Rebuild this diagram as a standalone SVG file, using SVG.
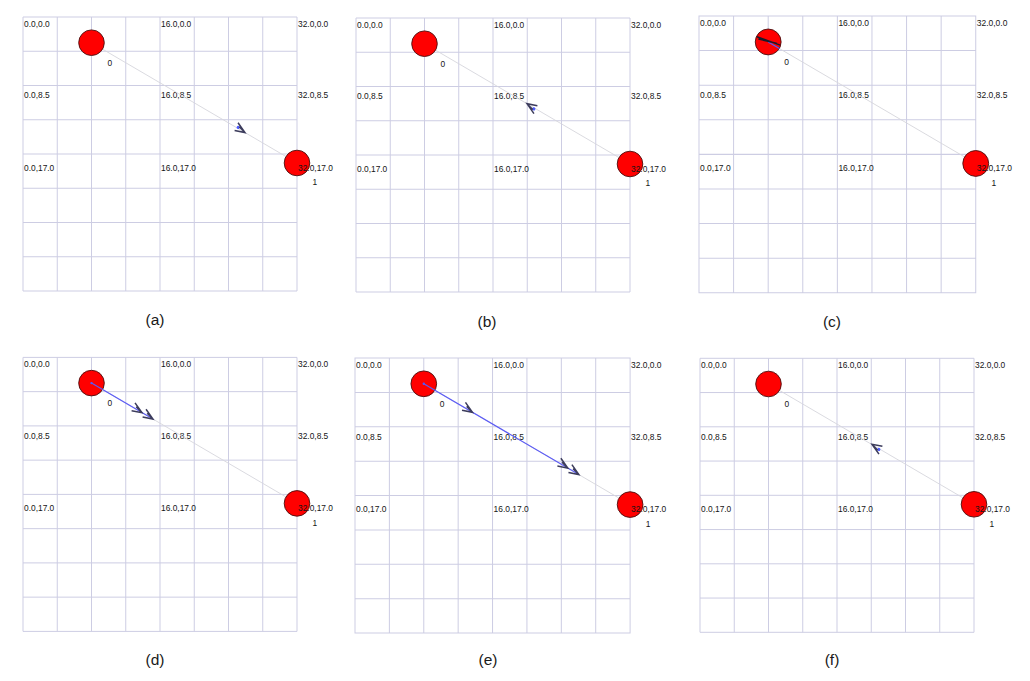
<svg xmlns="http://www.w3.org/2000/svg" xmlns:xlink="http://www.w3.org/1999/xlink" width="1030" height="681" viewBox="0 0 1030 681">
<style>
.bg{fill:#ffffff}
.grid{fill:none;stroke:#cdcde3;stroke-width:1}
.lbl{font-family:"Liberation Sans",Arial,sans-serif;font-size:8.4px;fill:#151515}
.nlbl{font-family:"Liberation Sans",Arial,sans-serif;font-size:8.4px;fill:#151515}
.cap{font-family:"Liberation Sans",Arial,sans-serif;font-size:15.5px;fill:#1a1a1a;text-anchor:middle}
.edge{stroke:#d6d6dc;stroke-width:0.9;fill:none}
.prog{stroke:#5c5cf5;stroke-width:1.2;fill:none}
.node{fill:#ff0000;stroke:#4a1010;stroke-width:0.9}
.chev{fill:none;stroke:#3c3c5c;stroke-width:1.5;stroke-linejoin:miter}
.dot{fill:#4f5cff}
</style>
<defs>
<path id="gridp" class="grid" d="M0,0H274V274H0Z M34.25,0V274 M68.5,0V274 M102.75,0V274 M137,0V274 M171.25,0V274 M205.5,0V274 M239.75,0V274 M0,34.25H274 M0,68.5H274 M0,102.75H274 M0,137H274 M0,171.25H274 M0,205.5H274 M0,239.75H274"/>
<g id="chev"><path class="chev" d="M-11,-5 L0,0 L-10,3.5 M-8,-2.2 L0,0"/></g>
<g id="chevd"><circle class="dot" cx="-8.5" cy="-1" r="1.6"/><path class="chev" d="M-11,-5 L0,0 L-10,3.5 M-8,-2.2 L0,0"/></g>
</defs>
<rect class="bg" x="0" y="0" width="1030" height="681"/>

<!-- Panel (a) -->
<g id="panel-a" transform="translate(23,17)">
<use xlink:href="#gridp"/>
<text class="lbl" x="1" y="9.7">0.0,0.0</text><text class="lbl" x="138" y="9.7">16.0,0.0</text><text class="lbl" x="275" y="9.7">32.0,0.0</text>
<text class="lbl" x="1" y="81.3">0.0,8.5</text><text class="lbl" x="138" y="81.3">16.0,8.5</text><text class="lbl" x="275" y="81.3">32.0,8.5</text>
<text class="lbl" x="1" y="153.7">0.0,17.0</text><text class="lbl" x="138" y="153.7">16.0,17.0</text>
<g id="a-connectors"><line class="edge" x1="68.5" y1="25.7" x2="274" y2="146"/><use xlink:href="#chevd" transform="translate(222,115.6) rotate(30.35)"/></g>
<g id="a-node0"><circle class="node" cx="68.5" cy="25.7" r="12.8"/><text class="nlbl" x="84.5" y="49">0</text></g>
<g id="a-node1"><circle class="node" cx="274" cy="146" r="12.8"/><text class="nlbl" x="289.5" y="168.3">1</text></g>
<text class="lbl" x="275" y="153.7">32.0,17.0</text>
</g>

<!-- Panel (b) -->
<g id="panel-b" transform="translate(356,18)">
<use xlink:href="#gridp"/>
<text class="lbl" x="1" y="9.7">0.0,0.0</text><text class="lbl" x="138" y="9.7">16.0,0.0</text><text class="lbl" x="275" y="9.7">32.0,0.0</text>
<text class="lbl" x="1" y="81.3">0.0,8.5</text><text class="lbl" x="138" y="81.3">16.0,8.5</text><text class="lbl" x="275" y="81.3">32.0,8.5</text>
<text class="lbl" x="1" y="153.7">0.0,17.0</text><text class="lbl" x="138" y="153.7">16.0,17.0</text>
<g id="b-connectors"><line class="edge" x1="68.5" y1="25.7" x2="274" y2="146"/><use xlink:href="#chevd" transform="translate(171,85.7) rotate(210.35)"/></g>
<g id="b-node0"><circle class="node" cx="68.5" cy="25.7" r="12.8"/><text class="nlbl" x="84.5" y="49">0</text></g>
<g id="b-node1"><circle class="node" cx="274" cy="146" r="12.8"/><text class="nlbl" x="289.5" y="168.3">1</text></g>
<text class="lbl" x="275" y="153.7">32.0,17.0</text>
</g>

<!-- Panel (c) -->
<g id="panel-c" transform="translate(699,16) scale(1.01)">
<use xlink:href="#gridp"/>
<text class="lbl" x="1" y="9.7">0.0,0.0</text><text class="lbl" x="138" y="9.7">16.0,0.0</text><text class="lbl" x="275" y="9.7">32.0,0.0</text>
<text class="lbl" x="1" y="81.3">0.0,8.5</text><text class="lbl" x="138" y="81.3">16.0,8.5</text><text class="lbl" x="275" y="81.3">32.0,8.5</text>
<text class="lbl" x="1" y="153.7">0.0,17.0</text><text class="lbl" x="138" y="153.7">16.0,17.0</text>
<g id="c-connectors"><line class="edge" x1="68.5" y1="25.7" x2="274" y2="146"/></g>
<g id="c-node0"><circle class="node" cx="68.5" cy="25.7" r="12.8"/><text class="nlbl" x="84.5" y="49">0</text></g>
<g id="c-node1"><circle class="node" cx="274" cy="146" r="12.8"/><text class="nlbl" x="289.5" y="168.3">1</text></g>
<g id="c-arrow"><line class="prog" x1="68.5" y1="25.7" x2="80" y2="32.4" stroke="#7a3cc8"/><path d="M57.4,20.5 L80.4,28.8 M58.8,22.8 L77.3,27.1" fill="none" stroke="#1a1a2a" stroke-width="1.5"/></g>
<text class="lbl" x="275" y="153.7">32.0,17.0</text>
</g>

<!-- Panel (d) -->
<g id="panel-d" transform="translate(23,357.4)">
<use xlink:href="#gridp"/>
<text class="lbl" x="1" y="9.7">0.0,0.0</text><text class="lbl" x="138" y="9.7">16.0,0.0</text><text class="lbl" x="275" y="9.7">32.0,0.0</text>
<text class="lbl" x="1" y="81.3">0.0,8.5</text><text class="lbl" x="138" y="81.3">16.0,8.5</text><text class="lbl" x="275" y="81.3">32.0,8.5</text>
<text class="lbl" x="1" y="153.7">0.0,17.0</text><text class="lbl" x="138" y="153.7">16.0,17.0</text>
<g id="d-connectors"><line class="edge" x1="68.5" y1="25.7" x2="274" y2="146"/></g>
<g id="d-node0"><circle class="node" cx="68.5" cy="25.7" r="12.8"/><text class="nlbl" x="84.5" y="49">0</text></g>
<g id="d-node1"><circle class="node" cx="274" cy="146" r="12.8"/><text class="nlbl" x="289.5" y="168.3">1</text></g>
<g id="d-progress"><line class="prog" x1="68.5" y1="25.7" x2="130" y2="61.7"/><circle class="dot" cx="68.5" cy="25.7" r="1.2"/><use xlink:href="#chev" transform="translate(119,55.3) rotate(30.35)"/><use xlink:href="#chev" transform="translate(130,61.7) rotate(30.35)"/></g>
<text class="lbl" x="275" y="153.7">32.0,17.0</text>
</g>

<!-- Panel (e) -->
<g id="panel-e" transform="translate(355,358) scale(1.004)">
<use xlink:href="#gridp"/>
<text class="lbl" x="1" y="9.7">0.0,0.0</text><text class="lbl" x="138" y="9.7">16.0,0.0</text><text class="lbl" x="275" y="9.7">32.0,0.0</text>
<text class="lbl" x="1" y="81.3">0.0,8.5</text><text class="lbl" x="138" y="81.3">16.0,8.5</text><text class="lbl" x="275" y="81.3">32.0,8.5</text>
<text class="lbl" x="1" y="153.7">0.0,17.0</text><text class="lbl" x="138" y="153.7">16.0,17.0</text>
<g id="e-connectors"><line class="edge" x1="68.5" y1="25.7" x2="274" y2="146"/></g>
<g id="e-node0"><circle class="node" cx="68.5" cy="25.7" r="12.8"/><text class="nlbl" x="84.5" y="49">0</text></g>
<g id="e-node1"><circle class="node" cx="274" cy="146" r="12.8"/><text class="nlbl" x="289.5" y="168.3">1</text></g>
<g id="e-progress"><line class="prog" x1="68.5" y1="25.7" x2="223" y2="116.1"/><circle class="dot" cx="68.5" cy="25.7" r="1.2"/><use xlink:href="#chev" transform="translate(117,54.1) rotate(30.35)"/><use xlink:href="#chev" transform="translate(212,109.7) rotate(30.35)"/><use xlink:href="#chev" transform="translate(223,116.1) rotate(30.35)"/></g>
<text class="lbl" x="275" y="153.7">32.0,17.0</text>
</g>

<!-- Panel (f) -->
<g id="panel-f" transform="translate(700,358.3)">
<use xlink:href="#gridp"/>
<text class="lbl" x="1" y="9.7">0.0,0.0</text><text class="lbl" x="138" y="9.7">16.0,0.0</text><text class="lbl" x="275" y="9.7">32.0,0.0</text>
<text class="lbl" x="1" y="81.3">0.0,8.5</text><text class="lbl" x="138" y="81.3">16.0,8.5</text><text class="lbl" x="275" y="81.3">32.0,8.5</text>
<text class="lbl" x="1" y="153.7">0.0,17.0</text><text class="lbl" x="138" y="153.7">16.0,17.0</text>
<g id="f-connectors"><line class="edge" x1="68.5" y1="25.7" x2="274" y2="146"/><use xlink:href="#chevd" transform="translate(172,86) rotate(210.35)"/></g>
<g id="f-node0"><circle class="node" cx="68.5" cy="25.7" r="12.8"/><text class="nlbl" x="84.5" y="49">0</text></g>
<g id="f-node1"><circle class="node" cx="274" cy="146" r="12.8"/><text class="nlbl" x="289.5" y="168.3">1</text></g>
<text class="lbl" x="275" y="153.7">32.0,17.0</text>
</g>

<g id="captions">
<text class="cap" x="155" y="325">(a)</text>
<text class="cap" x="487" y="327">(b)</text>
<text class="cap" x="832" y="327">(c)</text>
<text class="cap" x="155" y="665">(d)</text>
<text class="cap" x="488" y="665">(e)</text>
<text class="cap" x="832" y="665">(f)</text>
</g>
</svg>
